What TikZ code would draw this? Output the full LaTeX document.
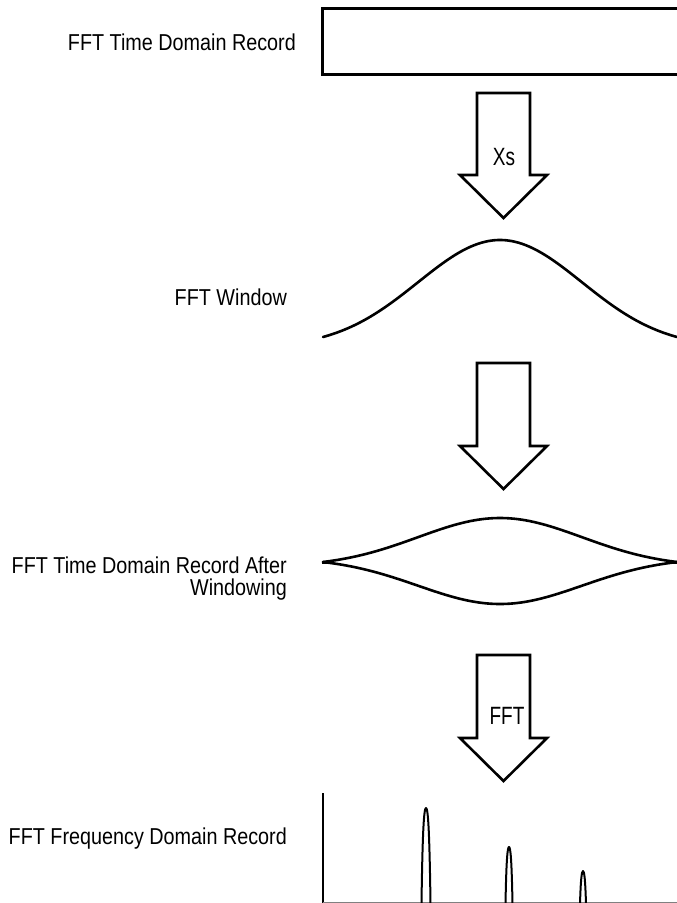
\documentclass[tikz,border=0pt]{standalone}
\usepackage{fontspec}
\setmainfont{Liberation Sans}
\begin{document}
\begin{tikzpicture}[x=1pt,y=-1pt,
  lbl/.style={font=\fontsize{23}{21.5}\selectfont, xscale=0.86, inner sep=0pt},
  albl/.style={font=\fontsize{25}{25}\selectfont, xscale=0.76, inner sep=0pt},
  blockarrow/.style={draw=black, line width=2.6pt, line join=miter, fill=white},
  curve/.style={draw=black, line width=2.6pt, line cap=round, line join=round},
  peak/.style={draw=black, line width=2pt, line join=round}]
\useasboundingbox (0,0) rectangle (677,903);
\clip (0,0) rectangle (677,903);

% record box
\draw[line width=3pt] (690,8) -- (322,8) -- (322,74) -- (690,74);
\node[lbl, anchor=base east] (l1) at (296,50) {FFT Time Domain Record};

% arrow 1
\draw[blockarrow] (477,93) -- (530,93) -- (530,175) -- (547,175) -- (503.5,218) -- (460,175) -- (477,175) -- cycle;
\node[albl] (xs) at (504,157) {Xs};

% window
\draw[curve] plot[domain=-2.1585:2.1585, samples=90, smooth]
  ({500+82*\x}, {337-97*(exp(-\x*\x/2)-0.0973)/0.9027});
\node[lbl, anchor=base east] (l2) at (287,305) {FFT Window};

% arrow 2
\draw[blockarrow] (477,363) -- (530,363) -- (530,446) -- (547,446) -- (503.5,489) -- (460,446) -- (477,446) -- cycle;

% windowed record
\draw[curve] plot[domain=-2.1585:2.1585, samples=90, smooth]
  ({500+82*\x}, {562-44*(exp(-\x*\x/2)-0.0973)/0.9027});
\draw[curve] plot[domain=-2.1585:2.1585, samples=90, smooth]
  ({500+82*\x}, {562+42*(exp(-\x*\x/2)-0.0973)/0.9027});
\draw[line width=3pt] (322,562) -- (332,562);
\draw[line width=3pt] (668,562) -- (678,562);
\node[lbl, anchor=base east, align=right] (l3) at (287,595) {FFT Time Domain Record After\\Windowing};

% arrow 3
\draw[blockarrow] (477,655) -- (530,655) -- (530,738) -- (547,738) -- (503.5,781) -- (460,738) -- (477,738) -- cycle;
\node[albl] (fft) at (507,716) {FFT};

% spectrum
\draw[line width=1.5pt] (323,793) -- (323,903);
\draw[gray, line width=1pt] (323,902) -- (677,902);
\draw[peak] (421.5,904) .. controls (422.5,830) and (424,808) .. (426,808)
  .. controls (428,808) and (429.5,830) .. (430.5,904);
\draw[peak] (505.5,904) .. controls (506.3,860) and (507.5,847) .. (509,847)
  .. controls (510.5,847) and (511.7,860) .. (512.5,904);
\draw[peak] (580,904) .. controls (580.7,880) and (581.7,871) .. (583,871)
  .. controls (584.3,871) and (585.3,880) .. (586,904);
\node[lbl, anchor=base east] (l4) at (287,844) {FFT Frequency Domain Record};
\end{tikzpicture}
\end{document}
